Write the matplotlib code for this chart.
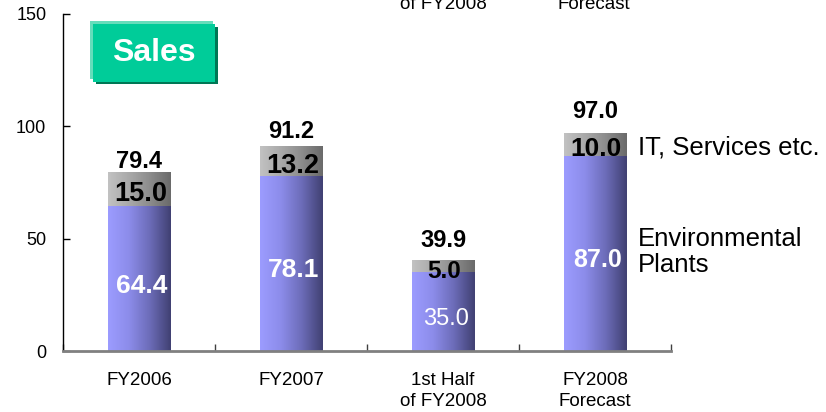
import matplotlib.pyplot as plt
import numpy as np
from matplotlib.colors import LinearSegmentedColormap
from matplotlib.patches import Rectangle

plt.rcParams['font.family'] = ['Liberation Sans', 'DejaVu Sans']

# data
categories = ['FY2006', 'FY2007', '1st Half\nof FY2008', 'FY2008\nForecast']
env_plants = [64.4, 78.1, 35.0, 87.0]
it_services = [15.0, 13.2, 5.0, 10.0]
totals = [79.4, 91.2, 39.9, 97.0]

W, H = 826, 412
fig = plt.figure(figsize=(W / 100, H / 100), dpi=100)
ax = fig.add_axes([63 / W, 1 - 351 / H, (671 - 63) / W, (351 - 14) / H])

x = np.arange(len(categories))
bw = 0.41
bars_env = ax.bar(x, env_plants, bw, color='none', linewidth=0)
bars_it = ax.bar(x, it_services, bw, bottom=env_plants, color='none', linewidth=0)

blue = LinearSegmentedColormap.from_list('b', ['#9C9CFF', '#8C8CEA', '#6C6CB8', '#404072'])
gray = LinearSegmentedColormap.from_list('g', ['#C2C2C2', '#A9A9A9', '#8C8C8C', '#6A6A6A'])
grad = np.linspace(0, 1, 256).reshape(1, -1)

for bars, cmap in [(bars_env, blue), (bars_it, gray)]:
    for p in bars:
        x0, y0 = p.get_x(), p.get_y()
        ax.imshow(grad, cmap=cmap, aspect='auto', interpolation='bicubic',
                  extent=[x0, x0 + p.get_width(), y0, y0 + p.get_height()], zorder=2)

ax.set_xlim(-0.5, len(categories) - 0.5)
ax.set_ylim(0, 150)

# segment labels
env_weight = ['bold', 'bold', 'normal', 'bold']
env_size = [19, 19, 17, 18]
it_size = [19.5, 19.5, 17.5, 19]
total_pad = [-0.5, 2, 7, 7]
for i in range(len(categories)):
    ax.annotate(f'{env_plants[i]:.1f}', (x[i], env_plants[i] / 2), xytext=(2, -5),
                textcoords='offset points', ha='center', va='center',
                color='white', fontsize=env_size[i], fontweight=env_weight[i], zorder=4)
    ax.annotate(f'{it_services[i]:.1f}', (x[i], env_plants[i] + it_services[i] / 2),
                xytext=(1, -3.5), textcoords='offset points', ha='center', va='center',
                color='black', fontsize=it_size[i], fontweight='bold', zorder=4)
    ax.annotate(f'{totals[i]:.1f}', (x[i], totals[i]), xytext=(0, total_pad[i]),
                textcoords='offset points', ha='center', va='bottom',
                color='black', fontsize=17, fontweight='bold', zorder=4)

# axes styling
for s in ['top', 'right']:
    ax.spines[s].set_visible(False)
ax.spines['left'].set_color('black')
ax.spines['left'].set_linewidth(1)
ax.spines['bottom'].set_color('#808080')
ax.spines['bottom'].set_linewidth(2)
ax.set_yticks([0, 50, 100, 150])
ax.tick_params(axis='y', direction='in', length=5, width=1, labelsize=13, pad=12)
ax.set_xticks(np.arange(-0.5, len(categories), 1.0))
ax.set_xticklabels([])
ax.tick_params(axis='x', direction='in', length=5, width=1, color='#404040')
ax.set_xticks(x, minor=True)
ax.set_xticklabels(categories, minor=True, fontsize=13.5, linespacing=1.35)
ax.tick_params(axis='x', which='minor', length=0, pad=15)

# series labels on the right
fig.text(638 / W, 1 - 147 / H, 'IT, Services etc.', fontsize=18.5, ha='left', va='center')
fig.text(638 / W, 1 - 252 / H, 'Environmental\nPlants', fontsize=18.5, ha='left',
         va='center', linespacing=1.1)

# clipped duplicate labels at the very top
fig.text(443 / W, 1 - 9 / H, 'of FY2008', fontsize=13.5, ha='center', va='baseline')
fig.text(594 / W, 1 - 9 / H, 'Forecast', fontsize=13.5, ha='center', va='baseline')

# "Sales" badge
def box(x0, y0, x1, y1, c):
    fig.add_artist(Rectangle((x0 / W, 1 - y1 / H), (x1 - x0) / W, (y1 - y0) / H,
                             transform=fig.transFigure, facecolor=c, edgecolor='none'))

box(90, 21, 213, 79, '#66DDBB')
box(96, 27, 218, 84, '#007755')
box(93, 24, 215, 82, '#00CC99')
fig.text(154 / W, 1 - 53 / H, 'Sales', fontsize=23, fontweight='bold', color='white',
         ha='center', va='center')

fig.savefig('out.png', dpi=100)
